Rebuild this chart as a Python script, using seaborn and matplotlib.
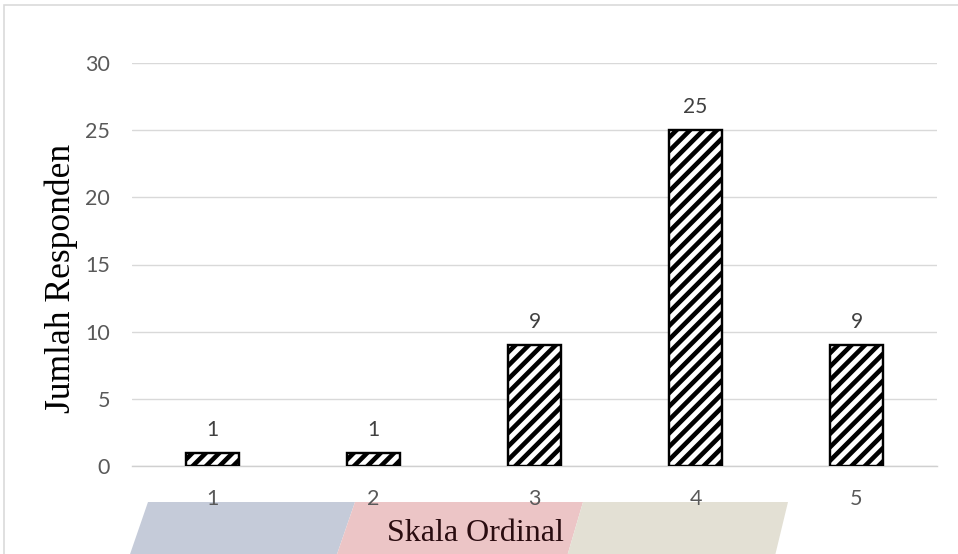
import matplotlib
matplotlib.use("Agg")
import matplotlib.pyplot as plt
from matplotlib.patches import Polygon, Rectangle
import seaborn as sns
import pandas as pd

categories = ["1", "2", "3", "4", "5"]
values = [1, 1, 9, 25, 9]
y_ticks = [0, 5, 10, 15, 20, 25, 30]

W, H = 958, 554
DPI = 121


def pt(pixels):
    return pixels * 72.0 / DPI


sns.set_theme(style="white")
plt.rcParams["font.family"] = ["Lato", "DejaVu Sans"]
plt.rcParams["hatch.linewidth"] = pt(4.6)
plt.rcParams["hatch.color"] = "black"

fig = plt.figure(figsize=(W / DPI, H / DPI), dpi=DPI)
fig.patch.set_facecolor("white")


def px(x, y):
    return (x / W, 1 - y / H)


# watermark-like decoration at bottom
for pts, col in [
    ([(148, 502), (355, 502), (335, 560), (128, 560)], "#c5cbd9"),
    ([(355, 502), (583, 502), (566, 560), (335, 560)], "#ecc5c6"),
    ([(583, 502), (788, 502), (774, 560), (566, 560)], "#e3e0d4"),
]:
    fig.patches.append(Polygon([px(*p) for p in pts], closed=True,
                               transform=fig.transFigure, facecolor=col,
                               edgecolor="none", zorder=0))

# chart border
fig.patches.append(Rectangle(px(4, 580), (980 - 4) / W, (580 - 5) / H,
                             transform=fig.transFigure, fill=False,
                             edgecolor="#d9d9d9", linewidth=pt(1.6), zorder=1))

left, right, bottom, top = 132, 937, 466, 63
ax = fig.add_axes([left / W, 1 - bottom / H, (right - left) / W, (bottom - top) / H])
ax.set_facecolor("none")
ax.set_zorder(2)

df = pd.DataFrame({"Skala": categories, "Jumlah": values})
sns.barplot(data=df, x="Skala", y="Jumlah", ax=ax, color="white",
            edgecolor="black", linewidth=pt(2.4), width=0.325, saturation=1, zorder=3)
for p in ax.patches:
    p.set_hatch("///")
    p.set_facecolor("white")
    p.set_edgecolor("black")

ax.bar_label(ax.containers[0], padding=pt(13), fontsize=pt(21), color="#404040",
             family=["Lato", "DejaVu Sans"])

ax.set_ylim(0, 30)
ax.set_yticks(y_ticks)
ax.yaxis.grid(True, color="#d9d9d9", linewidth=pt(1.4), zorder=0)
ax.set_axisbelow(True)
for s in ["left", "right", "top"]:
    ax.spines[s].set_visible(False)
ax.spines["bottom"].set_color("#d0d0d0")
ax.spines["bottom"].set_linewidth(pt(1.4))
ax.tick_params(axis="both", length=0, labelsize=pt(21.5), labelcolor="#595959")
ax.tick_params(axis="x", pad=pt(23))
ax.tick_params(axis="y", pad=pt(22))

ax.set_xlabel("Skala Ordinal", family=["Liberation Serif", "DejaVu Serif"],
              fontsize=pt(32), color="#2a0c10")
ax.xaxis.set_label_coords((475 - left) / (right - left), -(541 - bottom) / (bottom - top))
ax.xaxis.label.set_verticalalignment("baseline")
ax.set_ylabel("Jumlah Responden", family=["Liberation Serif", "DejaVu Serif"],
              fontsize=pt(35.5), color="black")
ax.yaxis.set_label_coords(-(left - 78) / (right - left), (bottom - 278) / (bottom - top))

fig.savefig("out.png", dpi=DPI, facecolor="white")
